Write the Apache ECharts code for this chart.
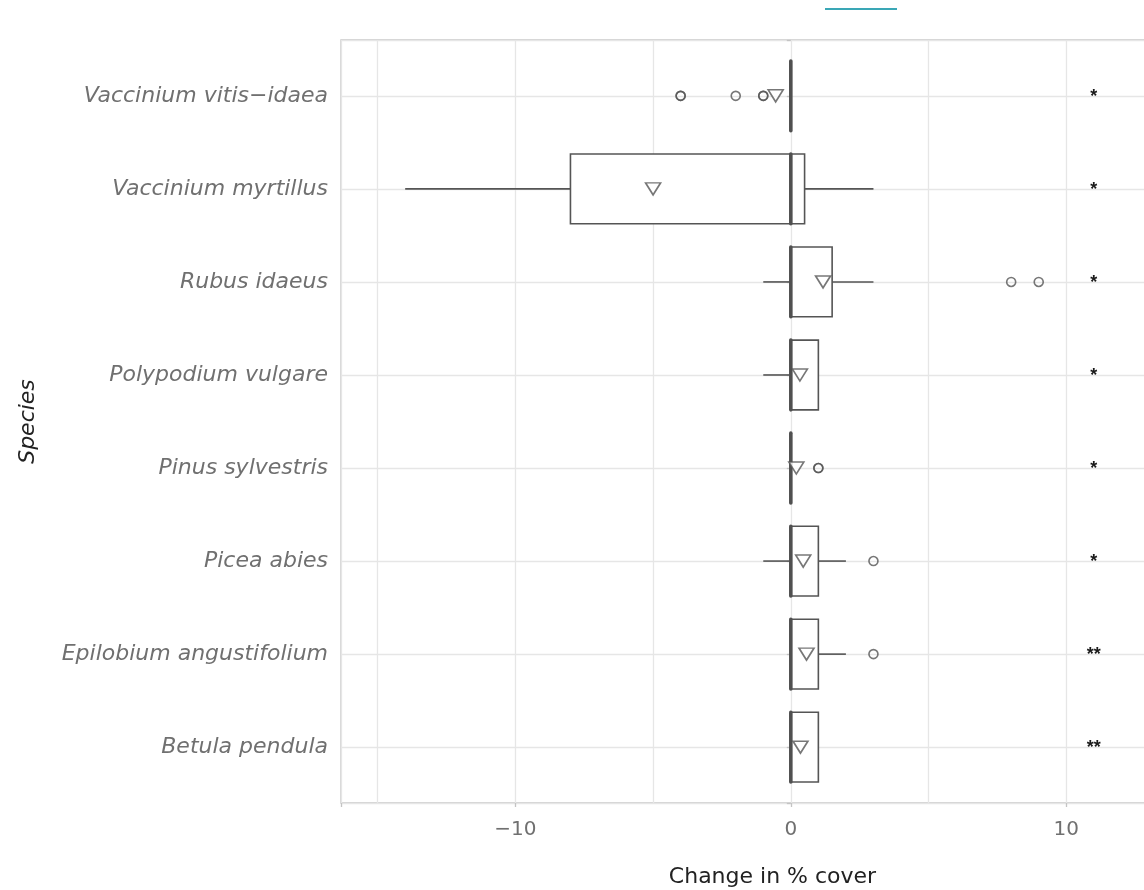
<!DOCTYPE html>
<html>
<head>
    <meta charset="utf-8">
    <title>Change in % cover</title>
    <script src="https://cdn.jsdelivr.net/npm/echarts@6/dist/echarts.min.js"></script>
    <style>
        html, body { margin: 0; padding: 0; background: #fff; }
        #main { width: 1144px; height: 890px; }
    </style>
</head>
<body>
<div id="main"></div>
<script>
    // species from top to bottom (row 1 = top)
    var species = ['Vaccinium vitis\u2212idaea', 'Vaccinium myrtillus', 'Rubus idaeus', 'Polypodium vulgare',
        'Pinus sylvestris', 'Picea abies', 'Epilobium angustifolium', 'Betula pendula'];
    var lowWhisker = [0, -14, -1, -1, 0, -1, 0, 0];
    var q1 = [0, -8, 0, 0, 0, 0, 0, 0];
    var medians = [0, 0, 0, 0, 0, 0, 0, 0];
    var q3 = [0, 0.5, 1.5, 1, 0, 1, 1, 1];
    var highWhisker = [0, 3, 3, 1, 0, 2, 2, 1];
    var means = [-0.55, -5, 1.17, 0.33, 0.2, 0.45, 0.57, 0.35];
    // [row, value]
    var outliers = [[1, -4], [1, -4], [1, -2], [1, -1], [1, -1], [3, 8], [3, 9], [5, 1], [5, 1], [6, 3], [7, 3]];
    var signif = ['*', '*', '*', '*', '*', '*', '**', '**'];
    var signifX = 11;

    var boxData = [];
    var meanData = [];
    var starData = [];
    for (var i = 0; i < species.length; i++) {
        boxData.push([i + 1, q1[i], medians[i], q3[i], lowWhisker[i], highWhisker[i]]);
        meanData.push([means[i], i + 1]);
        starData.push([signifX, i + 1, signif[i]]);
    }
    var outlierData = outliers.map(function (o) { return [o[1], o[0]]; });

    var lineCol = '#555';
    var halfBox = 0.375;

    function renderBox(params, api) {
        var y = api.value(0), a = api.value(1), m = api.value(2), b = api.value(3);
        var lo = api.value(4), hi = api.value(5);
        var top = api.coord([m, y - halfBox])[1];
        var bot = api.coord([m, y + halfBox])[1];
        var yTop = Math.min(top, bot), h = Math.abs(bot - top);
        var cy = api.coord([m, y])[1];
        var xa = api.coord([a, y])[0], xb = api.coord([b, y])[0], xm = api.coord([m, y])[0];
        var kids = [];
        if (lo < a) {
            kids.push({type: 'line', shape: {x1: api.coord([lo, y])[0], y1: cy, x2: xa, y2: cy},
                style: {stroke: lineCol, lineWidth: 1.6}});
        }
        if (hi > b) {
            kids.push({type: 'line', shape: {x1: xb, y1: cy, x2: api.coord([hi, y])[0], y2: cy},
                style: {stroke: lineCol, lineWidth: 1.6}});
        }
        if (b > a) {
            kids.push({type: 'rect', shape: {x: xa, y: yTop, width: xb - xa, height: h},
                style: {fill: '#fff', stroke: lineCol, lineWidth: 1.6}});
        }
        kids.push({type: 'line', shape: {x1: xm, y1: yTop, x2: xm, y2: yTop + h},
            style: {stroke: '#505050', lineWidth: 3.6, lineCap: 'round'}});
        return {type: 'group', children: kids};
    }

    function renderStar(params, api) {
        var p = api.coord([api.value(0), api.value(1)]);
        return {type: 'text', x: p[0], y: p[1] + 1,
            style: {text: starData[params.dataIndex][2], fill: '#1a1a1a',
                font: 'bold 18px "Liberation Sans", Arial, sans-serif',
                align: 'center', verticalAlign: 'middle'}};
    }

    var xMin = -16.33, xMax = 15;
    var labelFont = '"DejaVu Sans", sans-serif';

    var myChart = echarts.init(document.getElementById('main'));
    myChart.setOption({
        backgroundColor: '#fff',
        animation: false,
        graphic: [{
            type: 'line', shape: {x1: 825, y1: 9, x2: 897, y2: 9},
            style: {stroke: '#3aa7b6', lineWidth: 2}
        }],
        grid: {
            left: 341, top: 40, width: 863, height: 763, outerBoundsMode: 'none',
            show: true, borderColor: '#c4c4c4', borderWidth: 1.3, backgroundColor: '#fff'
        },
        xAxis: [{
            // gridlines every 5
            type: 'value', min: xMin, max: xMax, splitNumber: 6,
            axisLine: {show: false}, axisTick: {show: false}, axisLabel: {show: false},
            splitLine: {show: true, lineStyle: {color: '#e6e6e6', width: 1.3}}
        }, {
            // labels and ticks every 10
            type: 'value', min: xMin, max: xMax, splitNumber: 3, position: 'bottom',
            name: 'Change in % cover', nameLocation: 'middle', nameGap: 63,
            nameTextStyle: {color: '#222', fontSize: 22, fontFamily: labelFont},
            axisLine: {show: false},
            axisTick: {show: true, length: 4, lineStyle: {color: '#c4c4c4', width: 1.3}},
            splitLine: {show: false},
            axisLabel: {
                color: '#707070', fontSize: 20, fontFamily: labelFont, margin: 17,
                formatter: function (v) {
                    if (Math.abs(v % 10) > 1e-6) return '';
                    return v < 0 ? '\u2212' + Math.abs(v) : String(v);
                }
            }
        }],
        yAxis: {
            type: 'value', min: 0.4, max: 8.6, splitNumber: 8, inverse: true,
            name: 'Species', nameLocation: 'middle', nameGap: 302,
            nameTextStyle: {color: '#222', fontSize: 22, fontStyle: 'italic', fontFamily: labelFont},
            axisLine: {show: false},
            axisTick: {show: true, length: 4, lineStyle: {color: '#c4c4c4', width: 1.3}},
            splitLine: {show: true, lineStyle: {color: '#e6e6e6', width: 1.3}},
            axisLabel: {
                color: '#707070', fontSize: 22, fontStyle: 'italic', fontFamily: labelFont, margin: 13,
                formatter: function (v) {
                    var k = Math.round(v);
                    if (Math.abs(v - k) > 1e-6 || k < 1 || k > species.length) return '';
                    return species[k - 1];
                }
            }
        },
        series: [{
            type: 'custom', name: 'box', xAxisIndex: 0, yAxisIndex: 0,
            renderItem: renderBox, data: boxData, encode: {x: [1, 2, 3, 4, 5], y: 0}, z: 3
        }, {
            type: 'scatter', name: 'outliers', xAxisIndex: 0, yAxisIndex: 0,
            data: outlierData, symbol: 'circle', symbolSize: 9,
            itemStyle: {color: 'rgba(0,0,0,0)', borderColor: '#555', borderWidth: 1.6}, z: 4
        }, {
            type: 'scatter', name: 'mean', xAxisIndex: 0, yAxisIndex: 0,
            data: meanData, symbol: 'triangle', symbolSize: [15, 12], symbolRotate: 180,
            itemStyle: {color: '#fff', borderColor: '#555', borderWidth: 1.6}, z: 5
        }, {
            type: 'custom', name: 'signif', xAxisIndex: 0, yAxisIndex: 0,
            renderItem: renderStar, data: starData, encode: {x: 0, y: 1}, z: 6
        }]
    });
</script>
</body>
</html>
